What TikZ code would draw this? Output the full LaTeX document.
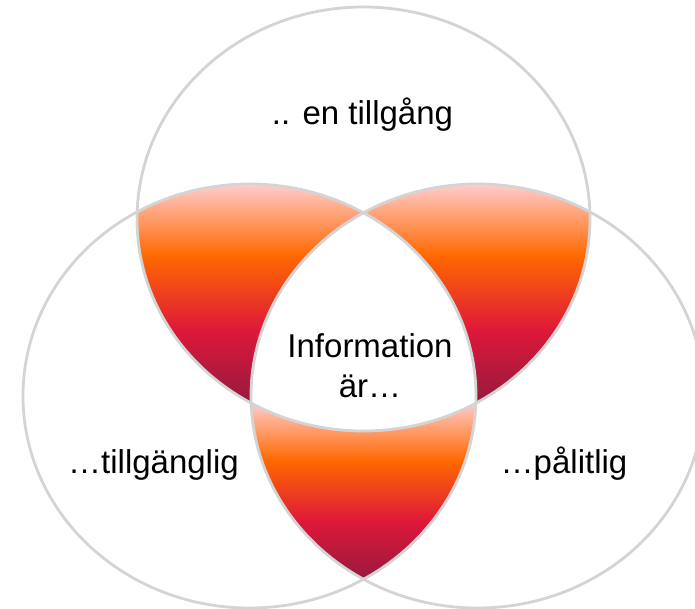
\documentclass[tikz,border=0pt]{standalone}
\usepackage{fontspec}
\setmainfont{Liberation Sans}
\usepackage{tikz}
\usetikzlibrary{positioning}
\definecolor{ljusrosa}{RGB}{255,204,204}
\definecolor{orangen}{RGB}{255,104,0}
\definecolor{karmin}{RGB}{222,24,58}
\definecolor{vinrod}{RGB}{150,26,62}
\definecolor{kantgra}{RGB}{212,212,212}
\newcommand{\ellbredd}{226.5pt}
\newcommand{\ellhojd}{212pt}
\pgfdeclareverticalshading{lins}{100bp}{color(0bp)=(vinrod); color(25bp)=(vinrod); color(41.5bp)=(karmin); color(58.5bp)=(orangen); color(75bp)=(ljusrosa); color(100bp)=(ljusrosa)}
\tikzset{cirkel/.style={draw=kantgra, line width=2.8pt}, etikett/.style={inner sep=0pt, font=\fontsize{33}{40}\selectfont}}

\begin{document}
\begin{tikzpicture}[x=1pt,y=-1pt]
		 \useasboundingbox (0,0) rectangle (695,609);
		 \coordinate (topp) at (363.5,219);
		 \coordinate (vanster) at (249.5,396);
		 \coordinate (hoger) at (477.5,396);

		 % linser
		 \begin{scope}
		  \clip (topp) ellipse [x radius=\ellbredd, y radius=\ellhojd];
		  \clip (vanster) ellipse [x radius=\ellbredd, y radius=\ellhojd];
		  \shade[shading=lins] (120,184) rectangle (370,402);
		  \fill[white] (hoger) ellipse [x radius=\ellbredd, y radius=\ellhojd];
		 \end{scope}
		 \begin{scope}
		  \clip (topp) ellipse [x radius=\ellbredd, y radius=\ellhojd];
		  \clip (hoger) ellipse [x radius=\ellbredd, y radius=\ellhojd];
		  \shade[shading=lins] (357,184) rectangle (607,402);
		  \fill[white] (vanster) ellipse [x radius=\ellbredd, y radius=\ellhojd];
		 \end{scope}
		 \begin{scope}
		  \clip (vanster) ellipse [x radius=\ellbredd, y radius=\ellhojd];
		  \clip (hoger) ellipse [x radius=\ellbredd, y radius=\ellhojd];
		  \shade[shading=lins] (240,402) rectangle (487,580);
		  \fill[white] (topp) ellipse [x radius=\ellbredd, y radius=\ellhojd];
		 \end{scope}

		 \draw[cirkel] (topp) ellipse [x radius=\ellbredd, y radius=\ellhojd];
		 \draw[cirkel] (vanster) ellipse [x radius=\ellbredd, y radius=\ellhojd];
		 \draw[cirkel] (hoger) ellipse [x radius=\ellbredd, y radius=\ellhojd];

		 \node[etikett, anchor=base] (tillgang) at (362.5,125) {.. en tillgång};
		 \node[etikett, anchor=north, align=center] (info) at (370,333) {Information\\är…};
		 \node[etikett, anchor=base] (tillganglig) at (153.5,473) {…tillgänglig};
		 \node[etikett, anchor=base] (palitlig) at (564,473) {…pålitlig};
		\end{tikzpicture}
\end{document}
